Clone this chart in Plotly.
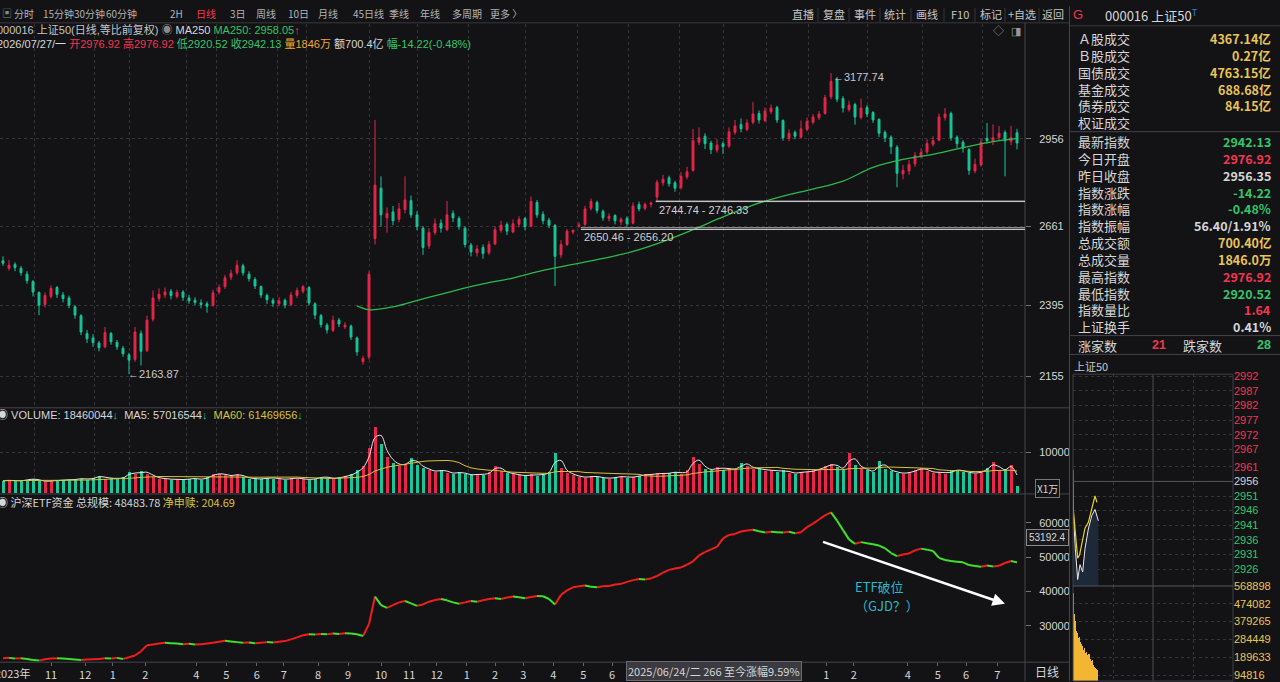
import pandas as pd
import plotly.graph_objects as go

# ---------------- 上证50 日K (每根约合并4个交易日) ----------------
opens = [
    2545, 2520, 2533, 2520, 2500, 2475, 2438, 2398, 2425, 2455,
    2430, 2420, 2390, 2360, 2300, 2285, 2268, 2255, 2300, 2270,
    2250, 2228, 2212, 2300, 2242, 2348, 2418, 2430, 2442, 2425,
    2440, 2420, 2412, 2403, 2400, 2395, 2440, 2458, 2490, 2505,
    2528, 2500, 2482, 2458, 2428, 2412, 2400, 2412, 2398, 2428,
    2442, 2455, 2400, 2360, 2328, 2310, 2345, 2322, 2325, 2285,
    2205, 2220, 2620, 2790, 2690, 2710, 2685, 2718, 2748, 2700,
    2655, 2595, 2640, 2672, 2650, 2705, 2688, 2655, 2598, 2572,
    2590, 2572, 2602, 2648, 2668, 2642, 2668, 2688, 2662, 2742,
    2702, 2682, 2665, 2565, 2600, 2642, 2662, 2668, 2722, 2742,
    2712, 2688, 2698, 2676, 2688, 2672, 2735, 2722, 2736, 2760,
    2808, 2825, 2808, 2792, 2828, 2850, 2945, 2965, 2942, 2918,
    2940, 2932, 2978, 3005, 2988, 3012, 3042, 3018, 3048, 3062,
    3018, 2958, 2978, 2962, 2988, 3012, 3028, 3042, 3098, 3155,
    3092, 3055, 3072, 3028, 3062, 3045, 3022, 2978, 2962, 2928,
    2838, 2848, 2872, 2898, 2912, 2938, 2952, 3028, 3042, 2962,
    2945, 2920, 2848, 2868, 2958, 2948, 2962, 2978, 2948, 2976.92,
]
closes = [
    2537, 2530, 2522, 2505, 2478, 2440, 2395, 2428, 2452, 2432,
    2418, 2395, 2362, 2305, 2282, 2270, 2252, 2303, 2272, 2255,
    2232, 2210, 2305, 2240, 2345, 2420, 2432, 2440, 2428, 2438,
    2422, 2410, 2405, 2398, 2392, 2437, 2455, 2488, 2503, 2530,
    2505, 2485, 2460, 2430, 2414, 2402, 2410, 2396, 2430, 2445,
    2458, 2403, 2362, 2330, 2312, 2345, 2332, 2328, 2288, 2238,
    2216, 2500, 2800, 2700, 2705, 2680, 2720, 2750, 2700, 2660,
    2590, 2640, 2670, 2655, 2700, 2690, 2660, 2600, 2575, 2585,
    2570, 2600, 2650, 2665, 2645, 2670, 2685, 2660, 2745, 2700,
    2680, 2665, 2560, 2600, 2645, 2648, 2665, 2720, 2745, 2715,
    2690, 2695, 2680, 2685, 2670, 2730, 2720, 2735, 2740, 2810,
    2820, 2805, 2790, 2830, 2845, 2950, 2960, 2940, 2920, 2935,
    2930, 2980, 3000, 2990, 3010, 3040, 3020, 3050, 3060, 3020,
    2960, 2975, 2965, 2990, 3015, 3030, 3040, 3095, 3150, 3090,
    3060, 3070, 3030, 3060, 3040, 3020, 2975, 2960, 2930, 2840,
    2850, 2870, 2900, 2910, 2940, 2950, 3030, 3040, 2960, 2940,
    2925, 2850, 2870, 2945, 2950, 2960, 2975, 2950, 2960, 2942.13,
]
highs = [
    2560, 2548, 2540, 2528, 2510, 2480, 2442, 2438, 2462, 2460,
    2440, 2428, 2395, 2365, 2312, 2298, 2275, 2322, 2305, 2278,
    2258, 2235, 2322, 2310, 2360, 2445, 2452, 2455, 2450, 2448,
    2446, 2430, 2422, 2415, 2408, 2448, 2465, 2498, 2515, 2547,
    2535, 2510, 2490, 2462, 2435, 2420, 2422, 2418, 2440, 2455,
    2463, 2460, 2405, 2366, 2335, 2360, 2352, 2338, 2330, 2290,
    2225, 2510, 3020, 2830, 2725, 2730, 2740, 2830, 2765, 2712,
    2662, 2655, 2688, 2685, 2747, 2715, 2695, 2662, 2605, 2598,
    2600, 2612, 2662, 2680, 2675, 2685, 2695, 2692, 2762, 2750,
    2712, 2690, 2668, 2615, 2652, 2650.46, 2675, 2730, 2755, 2748,
    2718, 2705, 2702, 2692, 2695, 2742, 2745, 2742, 2744.74, 2818,
    2835, 2832, 2815, 2845, 2862, 2990, 2995, 2975, 2950, 2955,
    2948, 2995, 3020, 3025, 3022, 3080, 3052, 3062, 3072, 3068,
    3022, 2988, 2985, 3018, 3028, 3040, 3050, 3105, 3177.74, 3165,
    3100, 3085, 3078, 3092, 3070, 3050, 3025, 2985, 2968, 2935,
    2868, 2885, 2912, 2925, 2955, 2965, 3042, 3060, 3048, 2968,
    2952, 2925, 2890, 2958, 3010, 3005, 3000, 2985, 3000, 2990,
]
lows = [
    2528, 2512, 2510, 2495, 2468, 2425, 2362, 2388, 2418, 2420,
    2405, 2385, 2350, 2295, 2268, 2255, 2240, 2250, 2262, 2245,
    2222, 2163.87, 2205, 2192, 2238, 2340, 2408, 2420, 2415, 2418,
    2410, 2400, 2395, 2385, 2370, 2390, 2432, 2450, 2480, 2498,
    2495, 2475, 2450, 2420, 2400, 2390, 2392, 2385, 2392, 2420,
    2435, 2395, 2348, 2320, 2300, 2305, 2322, 2315, 2278, 2225,
    2195, 2212, 2600, 2660, 2640, 2665, 2675, 2705, 2690, 2648,
    2565, 2585, 2632, 2640, 2645, 2675, 2650, 2590, 2560, 2560,
    2552, 2565, 2598, 2640, 2632, 2638, 2658, 2648, 2658, 2690,
    2668, 2655, 2460, 2555, 2595, 2635, 2656.2, 2662, 2715, 2705,
    2680, 2678, 2668, 2665, 2660, 2668, 2712, 2715, 2725, 2746.33,
    2798, 2795, 2778, 2785, 2820, 2845, 2935, 2922, 2905, 2910,
    2905, 2925, 2970, 2978, 2982, 3005, 3008, 3012, 3040, 3010,
    2950, 2948, 2955, 2958, 2982, 3005, 3020, 3038, 3090, 3080,
    3045, 3048, 3004, 3022, 3030, 3010, 2962, 2945, 2905, 2793,
    2820, 2835, 2862, 2890, 2905, 2930, 2948, 3018, 2950, 2925,
    2910, 2835, 2840, 2862, 2940, 2935, 2950, 2830, 2935, 2920.52,
]
idx = list(range(len(closes)))

# MA250
ma250_idx = [59, 61, 65, 70, 75, 80, 85, 90, 95, 100, 105, 110, 115, 120,
             125, 130, 135, 140, 145, 150, 155, 160, 165, 169]
ma250_val = [2393, 2380, 2390, 2417, 2443, 2467, 2487, 2513, 2533, 2553, 2577,
             2610, 2650, 2693, 2733, 2763, 2787, 2814, 2860, 2887, 2904, 2927,
             2947, 2958.05]

# 成交量 (万)
volumes = [
    3000, 3200, 2900, 3100, 3300, 3500, 3000, 2800, 3100, 3000,
    3300, 3200, 3400, 3600, 3300, 3800, 4200, 3600, 3700, 3500,
    3900, 5200, 4600, 5400, 4800, 4000, 3600, 3500, 3300, 3400,
    3200, 3600, 3500, 3300, 4000, 4600, 4800, 4400, 4200, 4700,
    3900, 3600, 3500, 3400, 3800, 3600, 3500, 3300, 3700, 3600,
    3400, 3300, 3600, 4000, 3800, 3500, 3900, 4200, 4600, 5600,
    6800, 11000, 16300, 12000, 9000, 7500, 6800, 7200, 8600, 7000,
    6200, 5600, 5200, 5800, 5000, 4800, 5200, 4600, 4400, 4700,
    4500, 5200, 6800, 5400, 5000, 4600, 4400, 4200, 4600, 4300,
    4800, 5200, 9800, 6200, 5000, 4400, 4000, 3800, 4200, 3900,
    3700, 3600, 3900, 4100, 3800, 4000, 4300, 4600, 4500, 4900,
    4700, 5000, 5200, 4800, 5600, 9000, 7200, 6000, 5600, 6400,
    5800, 6200, 5600, 7500, 6800, 5900, 6100, 5400, 5800, 5200,
    5600, 5000, 4800, 5300, 5100, 5600, 6000, 6600, 7200, 6400,
    5800, 9800, 7000, 6200, 5600, 5200, 7800, 6000, 5400, 5000,
    4800, 5200, 5600, 6200, 5400, 5000, 5200, 4800, 5400, 5800,
    5200, 5000, 4800, 5400, 6200, 7600, 5400, 6000, 7000, 1846,
]

# 沪深ETF资金 总规模
etf_scale = [
    20500, 20600, 20400, 20500, 20300, 20000, 19800, 20200, 20400, 20500,
    20400, 20300, 20100, 20000, 20100, 20200, 20300, 20500, 20400, 20600,
    20300, 20800, 21300, 22500, 24300, 24500, 24800, 25000, 24900, 24800,
    24600, 24700, 24500, 24600, 24800, 25000, 25300, 25600, 25400, 25200,
    25000, 25100, 24900, 25000, 25200, 25100, 25300, 25500, 26000, 26600,
    27200, 27500, 27400, 27600, 27500, 27700, 27600, 27800, 27700, 27500,
    27000, 30500, 38500, 36000, 35200, 36000, 36800, 37200, 36500, 35800,
    36200, 37000, 37500, 37800, 37400, 36800, 36400, 36800, 37200, 37000,
    37400, 37800, 38000, 37800, 38200, 38500, 38300, 38000, 38400, 38700,
    38600, 37800, 36200, 39000, 40300, 41200, 41500, 41700, 41400, 41200,
    41500, 41600, 42000, 42200, 42800, 43300, 43600, 43500, 43800, 44500,
    45500, 46300, 46700, 47000, 47800, 48800, 50500, 51500, 52300, 53000,
    55500, 56500, 56800, 57500, 57800, 58000, 57600, 57200, 57400, 57300,
    57200, 57400, 57000, 57300, 58800, 59800, 61000, 62200, 63100, 60700,
    57900, 55200, 53900, 54400, 54100, 53800, 53400, 52600, 51200, 50300,
    50800, 51100, 52000, 52500, 52200, 51800, 49800, 49200, 48900, 48700,
    48500, 47700, 47400, 47200, 47600, 47300, 47500, 48300, 48900, 48484,
]

month_pos = [8.0, 13.7, 18.3, 23.7, 32.2, 37.2, 42.3, 46.8, 52.5, 57.5,
             63.0, 67.7, 72.3, 77.3, 82.0, 86.7, 91.7, 96.7, 101.5,
             137.2, 141.8, 150.8, 155.8, 160.5, 165.7]
month_labels = ['11', '12', '1', '2', '4', '5', '6', '7', '8', '9',
                '10', '11', '12', '1', '2', '3', '4', '5', '6',
                '1', '2', '4', '5', '6', '7']
first_label = '2023年'

price_ticks = [2155, 2395, 2661, 2956]
vol_ticks = [10000]
etf_ticks = [30000, 40000, 50000, 60000]

# 分时 (分钟)
mini_min = [0, 0.5, 3.5, 7, 10.5, 14.5, 18, 23, 28, 33, 38]
mini_price = [2960, 2945, 2933, 2922.4, 2927.5, 2925, 2933, 2939.7, 2944.2, 2946.4, 2942.5]
mini_avg_min = [0, 3.5, 7, 10, 14, 18, 23, 28, 31, 33, 36]
mini_avg = [2947.5, 2938, 2929.7, 2931, 2936, 2940, 2942, 2946.4, 2950, 2951, 2948.8]
mini_vol = [530000, 470000, 420000, 380000, 350000, 330000, 300000, 320000,
            290000, 280000, 300000, 270000, 260000, 240000, 250000, 230000,
            220000, 240000, 210000, 200000, 215000, 190000, 200000, 185000,
            205000, 195000, 180000, 170000, 160000, 175000, 150000, 145000,
            140000, 135000, 130000, 125000, 120000, 110000]
mini_price_ticks = [2992, 2987, 2982, 2977, 2972, 2967, 2961, 2956,
                    2951, 2946, 2941, 2936, 2931, 2926]
mini_vol_ticks = [568898, 474082, 379265, 284449, 189633, 94816]

trade_labels = ['Ａ股成交', 'Ｂ股成交', '国债成交', '基金成交', '债券成交', '权证成交']
trade_values = ['4367.14亿', '0.27亿', '4763.15亿', '688.68亿', '84.15亿', '']
index_labels = ['最新指数', '今日开盘', '昨日收盘', '指数涨跌', '指数涨幅', '指数振幅',
                '总成交额', '总成交量', '最高指数', '最低指数', '指数量比', '上证换手']
index_values = ['2942.13', '2976.92', '2956.35', '-14.22', '-0.48%', '56.40/1.91%',
                '700.40亿', '1846.0万', '2976.92', '2920.52', '1.64', '0.41%']

# ---------------- style ----------------
W, H = 1280, 682
BG = '#131316'
RED = '#e8264a'
GREEN = '#17c79b'
TXT_RED = '#f0364f'
TXT_GREEN = '#35c46a'
YELLOW = '#e8c457'
WHITE = '#d6d6d6'
GRAY = '#b4b4b4'
LINE = '#38383e'
GRID = '#34343a'
FONT = 'Liberation Sans, Noto Sans CJK SC, sans-serif'
CJK = 'Noto Sans CJK SC, Liberation Sans, sans-serif'


def px(x):
    return x / W


def py(y):
    return 1 - y / H


annotations = []
shapes = []


def txt(x, y, s, color=GRAY, size=11, anchor='left', family=FONT, **kw):
    annotations.append(dict(x=px(x), y=py(y), xref='paper', yref='paper', text=s,
                            showarrow=False, xanchor=anchor, yanchor='middle',
                            font=dict(color=color, size=size, family=family), **kw))


def hline(x0, x1, y, color=LINE, width=1):
    shapes.append(dict(type='line', xref='paper', yref='paper', x0=px(x0), x1=px(x1),
                       y0=py(y), y1=py(y), line=dict(color=color, width=width)))


def vline(x, y0, y1, color=LINE, width=1):
    shapes.append(dict(type='line', xref='paper', yref='paper', x0=px(x), x1=px(x),
                       y0=py(y0), y1=py(y1), line=dict(color=color, width=width)))


def span(s, c):
    return f'<span style="color:{c}">{s}</span>'


fig = go.Figure()

# 主图 K线
fig.add_trace(go.Candlestick(
    x=idx, open=opens, high=highs, low=lows, close=closes,
    increasing=dict(line=dict(color=RED, width=1), fillcolor=RED),
    decreasing=dict(line=dict(color=GREEN, width=1), fillcolor=GREEN),
    whiskerwidth=0, xaxis='x', yaxis='y', hoverinfo='skip'))
fig.add_trace(go.Scatter(x=ma250_idx, y=ma250_val, mode='lines',
                         line=dict(color='#2db84d', width=1.3, shape='spline'),
                         xaxis='x', yaxis='y', hoverinfo='skip'))

# 成交量
vol_colors = [RED if c >= o else GREEN for o, c in zip(opens, closes)]
fig.add_trace(go.Bar(x=idx, y=volumes, width=0.5,
                     marker=dict(color=vol_colors, line=dict(width=0)),
                     xaxis='x2', yaxis='y2', hoverinfo='skip'))
vs = pd.Series(volumes)
fig.add_trace(go.Scatter(x=idx, y=vs.rolling(2, min_periods=1).mean(), mode='lines',
                         line=dict(color='#e6e6e6', width=1, shape='spline'),
                         xaxis='x2', yaxis='y2', hoverinfo='skip'))
fig.add_trace(go.Scatter(x=idx, y=vs.rolling(15, min_periods=1).mean(), mode='lines',
                         line=dict(color='#d8c23a', width=1),
                         xaxis='x2', yaxis='y2', hoverinfo='skip'))

# ETF 资金: 上升段红, 下降段绿
rx, ry, gx, gy = [], [], [], []
for i in range(len(etf_scale) - 1):
    tx, ty = (rx, ry) if etf_scale[i + 1] >= etf_scale[i] else (gx, gy)
    tx += [i, i + 1, None]
    ty += [etf_scale[i], etf_scale[i + 1], None]
fig.add_trace(go.Scatter(x=rx, y=ry, mode='lines', line=dict(color='#f01e1e', width=2),
                         xaxis='x3', yaxis='y3', hoverinfo='skip'))
fig.add_trace(go.Scatter(x=gx, y=gy, mode='lines', line=dict(color='#3ee02a', width=2),
                         xaxis='x3', yaxis='y3', hoverinfo='skip'))

# 分时小图
fig.add_trace(go.Scatter(x=mini_min, y=mini_price, mode='lines', fill='tozeroy',
                         fillcolor='#1d2938', line=dict(color='#e8e8e8', width=1),
                         xaxis='x4', yaxis='y4', hoverinfo='skip'))
fig.add_trace(go.Scatter(x=mini_avg_min, y=mini_avg, mode='lines',
                         line=dict(color='#e8d21e', width=1.2),
                         xaxis='x4', yaxis='y4', hoverinfo='skip'))
fig.add_trace(go.Bar(x=list(range(len(mini_vol))), y=mini_vol, width=1.0,
                     marker=dict(color='#f2b632', line=dict(width=0)),
                     xaxis='x5', yaxis='y5', hoverinfo='skip'))

# ---------------- axes ----------------
XR = [-0.5, 170.33]
grid_pos = [5.3, 15.2, 21, 30.5, 35.5, 45.7, 50.5, 61, 69, 77.5, 87, 95.7,
            104.2, 112.8, 120, 127.2, 134.2, 144, 153.3, 163.2]
tickfont = dict(color=WHITE, size=11, family=FONT)
xbase = dict(range=XR, domain=[0, px(1025)], zeroline=False, showline=False,
             showticklabels=False, ticks='', fixedrange=True)
ybase = dict(side='right', zeroline=False, showline=False, ticks='outside', ticklen=5,
             tickcolor='#777', tickfont=tickfont, gridcolor=GRID, griddash='dot',
             ticklabelstandoff=6, fixedrange=True)

fig.update_layout(
    xaxis=dict(xbase, anchor='y', tickvals=grid_pos, showgrid=True, gridcolor=GRID,
               griddash='dot', rangeslider=dict(visible=False)),
    yaxis=dict(ybase, domain=[py(405), py(18)], range=[2052.7, 3344.1], anchor='x',
               tickvals=price_ticks, ticktext=[str(v) for v in price_ticks]),
    xaxis2=dict(xbase, anchor='y2', tickvals=grid_pos, showgrid=True, gridcolor=GRID,
                griddash='dot'),
    yaxis2=dict(ybase, domain=[py(492), py(407)], range=[0, 20730], anchor='x2',
                tickvals=vol_ticks, ticktext=[str(v) for v in vol_ticks]),
    xaxis3=dict(xbase, anchor='y3', tickvals=month_pos, ticktext=month_labels,
                showticklabels=True, ticks='outside', ticklen=3, tickcolor='#666',
                tickfont=dict(color=WHITE, size=11, family=CJK), showgrid=False),
    yaxis3=dict(ybase, domain=[py(663), py(494)], range=[19338, 68179], anchor='x3',
                tickvals=etf_ticks, ticktext=[str(v) for v in etf_ticks], showgrid=False),
    xaxis4=dict(domain=[px(1073), px(1233)], range=[0, 240], anchor='y4',
                tickvals=[60, 180], showgrid=True, gridcolor=GRID, griddash='dot',
                showticklabels=False, zeroline=False, fixedrange=True),
    yaxis4=dict(domain=[py(586), py(372)], range=[2920.2, 2992.7], anchor='x4',
                side='right', tickvals=mini_price_ticks,
                ticktext=[span(v, TXT_RED if v > 2956 else (WHITE if v == 2956 else TXT_GREEN))
                          for v in mini_price_ticks],
                tickfont=dict(size=11, family=FONT), gridcolor=GRID, griddash='dot',
                zeroline=False, ticks='', fixedrange=True),
    xaxis5=dict(domain=[px(1073), px(1233)], range=[0, 240], anchor='y5',
                tickvals=[60, 180], showgrid=True, gridcolor=GRID, griddash='dot',
                showticklabels=False, zeroline=False, fixedrange=True),
    yaxis5=dict(domain=[0, py(586)], range=[63170, 568898], anchor='x5', side='right',
                tickvals=mini_vol_ticks, ticktext=[span(v, YELLOW) for v in mini_vol_ticks],
                tickfont=dict(size=11, family=FONT), gridcolor=GRID, griddash='dot',
                zeroline=False, ticks='', fixedrange=True),
)

# ---------------- frame lines ----------------
hline(0, 1069, 17)
hline(0, 1069, 406, '#44444a')
hline(0, 1069, 493, '#44444a')
hline(0, 1069, 663, '#44444a')
vline(1025, 17, 682, '#44444a')
vline(1069.5, 0, 682, '#44444a')
hline(1070, 1280, 20)
hline(1070, 1280, 127, '#44444a')
hline(1070, 1280, 333, '#44444a')
hline(1070, 1280, 352, '#44444a')
for sx in [818, 849, 880, 911, 944, 975, 1005, 1039]:
    vline(sx, 2, 16, '#34343a')

# 缺口线
for x0, yv in [(96.3, 2650.46), (96.3, 2656.20), (108.8, 2744.74), (108.8, 2746.33)]:
    shapes.append(dict(type='line', xref='x', yref='y', x0=x0, x1=XR[1], y0=yv, y1=yv,
                       line=dict(color='#c8c8c8', width=1)))

# 分时框
shapes.append(dict(type='rect', xref='paper', yref='paper', x0=px(1073), x1=px(1233),
                   y0=0, y1=py(372), line=dict(color='#3e3e44', width=1)))
shapes.append(dict(type='line', xref='x4', yref='y4', x0=0, x1=240, y0=2956, y1=2956,
                   line=dict(color='#55555c', width=1)))
hline(1073, 1233, 586, '#55555c')
vline(1153, 372, 682, '#4a4a50')

# ---------------- texts ----------------
txt(0, 8, '▣', '#888', 10)
toolbar = [('分时', 24), ('15分钟', 58), ('30分钟', 89), ('60分钟', 121), ('2H', 176),
           ('日线', 206), ('3日', 238), ('周线', 266), ('10日', 298), ('月线', 328),
           ('45日线', 368), ('季线', 399), ('年线', 430), ('多周期', 467), ('更多 〉', 506)]
for s, x in toolbar:
    txt(x, 8, s, TXT_RED if s == '日线' else GRAY, 10, 'center', CJK)
for s, x in [('直播', 803), ('复盘', 834), ('事件', 865), ('统计', 895), ('画线', 927),
             ('F10', 960), ('标记', 991), ('+自选', 1022), ('返回', 1053)]:
    txt(x, 8, s, '#c4c4c4', 11, 'center', CJK)

txt(-5, 24, span('000016 上证50(日线,等比前复权)', '#c4c4c4') + ' ' + span('◉', '#8a8a8a')
    + ' ' + span('MA250', WHITE) + ' ' + span('MA250: 2958.05', '#2ec45e')
    + span('↑', TXT_RED), size=11)
txt(-5, 38, span('2026/07/27/一 ', WHITE) + span('开2976.92', TXT_RED) + ' '
    + span('高2976.92', TXT_RED) + ' ' + span('低2920.52', TXT_GREEN) + ' '
    + span('收2942.13', TXT_GREEN) + ' ' + span('量1846万', '#f0a830') + ' '
    + span('额700.4亿', WHITE) + ' ' + span('幅-14.22(-0.48%)', TXT_GREEN), size=11)
txt(998, 25, '◇', '#999', 11, 'center')
txt(1016, 25, '◨', '#999', 11, 'center')

# 主图标注
annotations.append(dict(x=21, y=2163.87, xref='x', yref='y', text='←2163.87',
                        showarrow=False, xanchor='left', yanchor='middle', xshift=-3,
                        font=dict(color='#c8c8c8', size=11, family=FONT)))
annotations.append(dict(x=138, y=3166, xref='x', yref='y', text='←3177.74',
                        showarrow=False, xanchor='left', yanchor='middle', xshift=0,
                        font=dict(color='#c8c8c8', size=11, family=FONT)))
annotations.append(dict(x=96.5, y=2624, xref='x', yref='y', text='2650.46 - 2656.20',
                        showarrow=False, xanchor='left', yanchor='middle',
                        font=dict(color='#d0d0d0', size=11, family=FONT)))
annotations.append(dict(x=109, y=2718, xref='x', yref='y', text='2744.74 - 2746.33',
                        showarrow=False, xanchor='left', yanchor='middle',
                        font=dict(color='#d0d0d0', size=11, family=FONT)))

# 副图标题
txt(-5, 413, span('◉ VOLUME: 18460044', WHITE) + span('↓', GREEN) + '  '
    + span('MA5: 57016544', WHITE) + span('↓', GREEN) + '  '
    + span('MA60: 61469656', '#d8c23a') + span('↓', GREEN), size=11)
txt(-5, 501, span('◉ 沪深ETF资金 总规模: 48483.78', WHITE) + ' '
    + span('净申赎: 204.69', '#d8c23a'), size=11, family=CJK)
txt(1047, 487, 'X1万', WHITE, 10, 'center', CJK, bordercolor='#777', borderpad=1,
    bgcolor=BG)
txt(1047, 537, '53192.4', WHITE, 10, 'center', bordercolor='#888', borderpad=2,
    bgcolor='#1a1a1e')

# ETF 箭头与注释
annotations.append(dict(x=px(1005), y=py(604), xref='paper', yref='paper', text=' ',
                        showarrow=True, ax=-185, ay=-63, arrowhead=2, arrowsize=1,
                        arrowwidth=2.5, arrowcolor='#ffffff'))
txt(879, 587, 'ETF破位', '#2bb6c8', 13, 'center', CJK)
txt(887, 606, '（GJD？）', '#2bb6c8', 13, 'center', CJK)

# 底部
txt(-7, 674, first_label, WHITE, 11, 'left', CJK)
txt(714, 672, '2025/06/24/二 266 至今涨幅9.59%', WHITE, 11, 'center', CJK,
    bgcolor='#3a3a40', bordercolor='#6a6a70', borderpad=1)
txt(1047, 672, '日线', WHITE, 12, 'center', CJK)

# 右侧面板
txt(1078, 9, 'G', TXT_RED, 13, 'center')
txt(1103, 9, '000016 上证50' + '<sup>' + span('T', '#3a78e0') + '</sup>', WHITE, 13,
    'left', CJK)
for k, (lab, val) in enumerate(zip(trade_labels, trade_values)):
    y = 33 + 17 * k
    txt(1076, y, lab, WHITE, 13, 'left', CJK)
    if val:
        txt(1273, y, '<b>' + val + '</b>', YELLOW, 12.5, 'right', CJK)
val_colors = [TXT_GREEN, TXT_RED, WHITE, TXT_GREEN, TXT_GREEN, WHITE,
              YELLOW, YELLOW, TXT_RED, TXT_GREEN, TXT_RED, WHITE]
for k, (lab, val) in enumerate(zip(index_labels, index_values)):
    y = 137 + 17 * k
    txt(1076, y, lab, WHITE, 13, 'left', CJK)
    txt(1273, y, '<b>' + val + '</b>', val_colors[k], 12.5, 'right', CJK)
txt(1076, 343, '涨家数', WHITE, 13, 'left', CJK)
txt(1168, 343, '<b>21</b>', TXT_RED, 12.5, 'right')
txt(1181, 343, '跌家数', WHITE, 13, 'left', CJK)
txt(1273, 343, '<b>28</b>', TXT_GREEN, 12.5, 'right')
txt(1072, 364, '上证50', '#c8c8c8', 11, 'left', CJK)

fig.update_layout(
    width=W, height=H, margin=dict(l=0, r=0, t=0, b=0),
    paper_bgcolor=BG, plot_bgcolor=BG, showlegend=False, bargap=0, boxgap=0.55,
    annotations=annotations, shapes=shapes, hovermode=False,
    font=dict(family=FONT, color=WHITE),
)

fig.write_html("out.html", config={'displayModeBar': False},
               post_script="document.body.style.margin='0';"
                           "document.body.style.background='%s';" % BG)
